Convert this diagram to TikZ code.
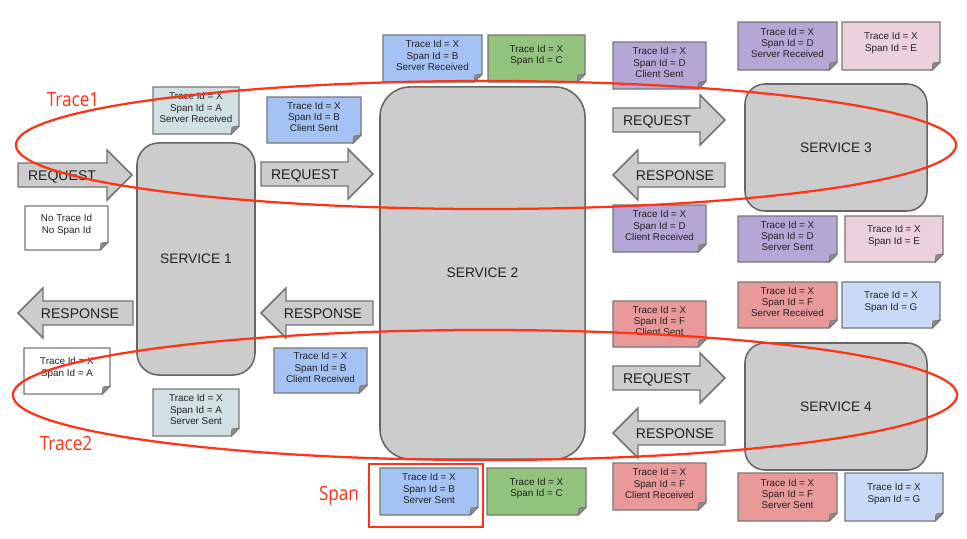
\documentclass[tikz,border=0pt]{standalone}
\usepackage{fontspec}
\setmainfont{Liberation Sans}
\newfontfamily\labelfont[FakeStretch=0.87]{Open Sans}
\usetikzlibrary{shapes.geometric}

\definecolor{svcfill}{HTML}{CCCCCC}
\definecolor{svcline}{HTML}{666666}
\definecolor{arrowline}{HTML}{737373}
\definecolor{noteline}{HTML}{777777}
\definecolor{foldgray}{HTML}{8C8C8C}
\definecolor{inkgray}{HTML}{222222}
\definecolor{spanA}{HTML}{D0E0E3}
\definecolor{spanB}{HTML}{A4C2F4}
\definecolor{spanC}{HTML}{93C47D}
\definecolor{spanD}{HTML}{B4A7D6}
\definecolor{spanE}{HTML}{EAD1DC}
\definecolor{spanF}{HTML}{EA9999}
\definecolor{spanG}{HTML}{C9DAF8}
\definecolor{tracered}{HTML}{FF3316}

% note card with a folded bottom-right corner
% #1 name, #2 left, #3 top, #4 right, #5 bottom, #6 fill, #7 text
\newcommand\notebox[7]{%
  \filldraw[notepaper, fill=#6] (#2,#3) -- (#4,#3) -- (#4,#5-8) -- (#4-8,#5) -- (#2,#5) -- cycle;
  \filldraw[notefold] (#4,#5-8) -- (#4-8,#5) -- (#4-7,#5-7) -- cycle;
  \node[notetext] (#1) at ({(#2+#4)/2},{(#3+#5)/2-3}) {#7};
}
% block arrow pointing right: #1 name, #2 tail x, #3 tip x, #4 centre y, #5 label
\newcommand\blockright[5]{%
  \filldraw[blockarrow] (#2,#4-12) -- (#3-25,#4-12) -- (#3-25,#4-25) -- (#3,#4)
    -- (#3-25,#4+25) -- (#3-25,#4+12) -- (#2,#4+12) -- cycle;
  \node[arrowtext] (#1) at (#2+44,#4+5) {#5};
}
% block arrow pointing left: #1 name, #2 tip x, #3 tail x, #4 centre y, #5 label
\newcommand\blockleft[5]{%
  \filldraw[blockarrow] (#3,#4-12) -- (#2+25,#4-12) -- (#2+25,#4-25) -- (#2,#4)
    -- (#2+25,#4+25) -- (#2+25,#4+12) -- (#3,#4+12) -- cycle;
  \node[arrowtext] (#1) at (#2+62,#4+5) {#5};
}

\begin{document}
\begin{tikzpicture}[x=0.025cm,y=-0.025cm,
  service/.style={draw=svcline, fill=svcfill, line width=1.1pt, inner sep=0pt,
    text=inkgray, font=\fontsize{9.8}{12}\selectfont},
  blockarrow/.style={draw=arrowline, fill=svcfill, line width=1.05pt, line join=miter},
  arrowtext/.style={text=inkgray, font=\fontsize{10}{12}\selectfont, inner sep=0pt,
    anchor=base},
  notepaper/.style={draw=noteline, line width=1.05pt, line join=miter},
  notefold/.style={fill=foldgray, draw=noteline, line width=0.5pt},
  notetext/.style={align=center, text=inkgray, inner sep=0pt,
    font=\fontsize{7}{7.9}\selectfont},
  trace/.style={ellipse, draw=tracered, line width=1.6pt, inner sep=0pt},
  redlabel/.style={text=tracered, inner sep=0pt, font=\labelfont\fontsize{14}{16}\selectfont}]

\useasboundingbox[fill=white] (0,0) rectangle (967,539);

% services
\node[service, rounded corners=0.55cm, minimum width=2.95cm, minimum height=5.8cm]
  (s1) at (196,259) {SERVICE 1};
\node[service, rounded corners=0.75cm, minimum width=5.125cm, minimum height=9.3cm]
  (s2) at (482.5,273) {SERVICE 2};
\node[service, rounded corners=0.5cm, minimum width=4.55cm, minimum height=3.175cm]
  (s3) at (836,147.5) {SERVICE 3};
\node[service, rounded corners=0.5cm, minimum width=4.55cm, minimum height=3.175cm]
  (s4) at (836,406.5) {SERVICE 4};

% requests and responses
\blockright{req1}{18}{132}{175}{REQUEST}
\blockright{req2}{261}{373}{174}{REQUEST}
\blockleft{resp1}{18}{133}{313}{RESPONSE}
\blockleft{resp2}{261}{373}{313}{RESPONSE}
\blockright{req3}{613}{725}{120}{REQUEST}
\blockleft{resp3}{613}{725}{175}{RESPONSE}
\blockright{req4}{613}{725}{378}{REQUEST}
\blockleft{resp4}{613}{725}{433}{RESPONSE}

% span annotations
\notebox{n0}{25}{206}{108}{250}{white}{No Trace Id\\No Span Id}
\notebox{n1}{24}{348}{110}{394}{white}{Trace Id = X\\Span Id = A}
\notebox{aSR}{153}{87}{239}{134}{spanA}{Trace Id = X\\Span Id = A\\Server Received}
\notebox{aSS}{153}{389}{239}{436}{spanA}{Trace Id = X\\Span Id = A\\Server Sent}
\notebox{bCS}{267}{97}{361}{143}{spanB}{Trace Id = X\\Span Id = B\\Client Sent}
\notebox{bCR}{274}{348}{367}{393}{spanB}{Trace Id = X\\Span Id = B\\Client Received}
\notebox{bSR}{383}{35}{482}{82}{spanB}{Trace Id = X\\Span Id = B\\Server Received}
\notebox{cTop}{488}{35}{585}{82}{spanC}{Trace Id = X\\Span Id = C}
\notebox{bSS}{380}{468}{478}{515}{spanB}{Trace Id = X\\Span Id = B\\Server Sent}
\notebox{cBot}{487}{468}{586}{515}{spanC}{Trace Id = X\\Span Id = C}
\notebox{dCS}{613}{42}{706}{89}{spanD}{Trace Id = X\\Span Id = D\\Client Sent}
\notebox{dSR}{738}{22}{837}{70}{spanD}{Trace Id = X\\Span Id = D\\Server Received}
\notebox{eTop}{842}{22}{940}{70}{spanE}{Trace Id = X\\Span Id = E}
\notebox{dCR}{613}{205}{706}{252}{spanD}{Trace Id = X\\Span Id = D\\Client Received}
\notebox{dSS}{738}{216}{837}{262}{spanD}{Trace Id = X\\Span Id = D\\Server Sent}
\notebox{eBot}{845}{216}{943}{262}{spanE}{Trace Id = X\\Span Id = E}
\notebox{fSR}{738}{282}{837}{328}{spanF}{Trace Id = X\\Span Id = F\\Server Received}
\notebox{gTop}{842}{282}{940}{328}{spanG}{Trace Id = X\\Span Id = G}
\notebox{fCS}{613}{301}{706}{347}{spanF}{Trace Id = X\\Span Id = F\\Client Sent}
\notebox{fCR}{613}{463}{706}{510}{spanF}{Trace Id = X\\Span Id = F\\Client Received}
\notebox{fSS}{738}{473}{837}{521}{spanF}{Trace Id = X\\Span Id = F\\Server Sent}
\notebox{gBot}{845}{473}{943}{521}{spanG}{Trace Id = X\\Span Id = G}

% traces and the highlighted span
\node[trace, minimum width=23.5cm, minimum height=3.2cm] (trace1) at (486,145) {};
\node[trace, minimum width=23.6cm, minimum height=3.25cm] (trace2) at (485,395) {};
\node[draw=tracered, line width=1.6pt, minimum width=2.85cm, minimum height=1.575cm,
  inner sep=0pt] (spanframe) at (426,495.5) {};

\node[redlabel] (t1label) at (73,100) {Trace1};
\node[redlabel] (t2label) at (66,443) {Trace2};
\node[redlabel] (spanlabel) at (339,496) {Span};
\end{tikzpicture}
\end{document}
